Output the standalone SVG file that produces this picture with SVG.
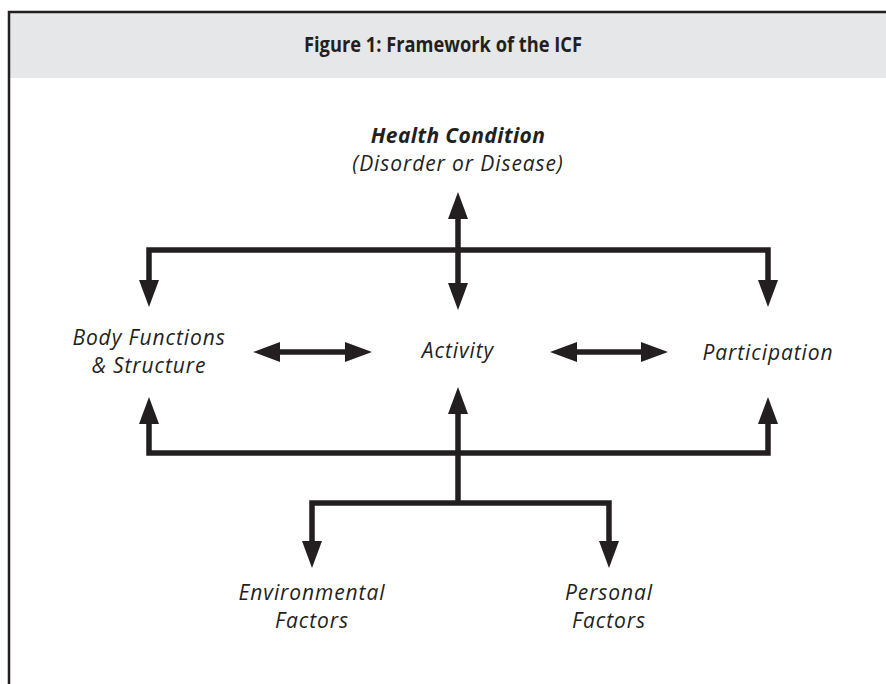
<svg xmlns="http://www.w3.org/2000/svg" width="886" height="684" viewBox="0 0 886 684">
<style>
.lbl{font-family:"Open Sans","Noto Sans","Liberation Sans",sans-serif;font-style:italic;font-size:21px;letter-spacing:0.9px;fill:#231f20;text-anchor:middle}
.b{font-weight:bold;letter-spacing:0.4px}
.title{font-family:"Open Sans","Noto Sans","Liberation Sans",sans-serif;font-weight:bold;font-size:21px;fill:#231f20;text-anchor:middle}
.con{fill:none;stroke:#231f20;stroke-width:5.5;stroke-linejoin:miter}
.frame{fill:none;stroke:#231f20;stroke-width:2.5}
</style>
<defs>
<marker id="ah" viewBox="0 0 27 20" refX="0" refY="10" markerWidth="27" markerHeight="20" markerUnits="userSpaceOnUse" orient="auto-start-reverse">
<path d="M0,0 L27,10 L0,20 z" fill="#231f20"/>
</marker>
</defs>
<rect x="0" y="0" width="886" height="684" fill="#ffffff"/>
<g id="header">
<rect x="9" y="12" width="877" height="66" fill="#e6e7e8"/>
<path class="frame" d="M9,684 L9,12 L886,12"/>
<text class="title" x="443" y="52" textLength="278" lengthAdjust="spacingAndGlyphs">Figure 1: Framework of the ICF</text>
</g>
<g id="connectors">
<path class="con" d="M458,219 L458,283" marker-start="url(#ah)" marker-end="url(#ah)"/>
<path class="con" d="M149,280 L149,250 L768,250 L768,280" marker-start="url(#ah)" marker-end="url(#ah)"/>
<path class="con" d="M280,352 L345,352" marker-start="url(#ah)" marker-end="url(#ah)"/>
<path class="con" d="M577,352 L641,352" marker-start="url(#ah)" marker-end="url(#ah)"/>
<path class="con" d="M149,424 L149,453 L768,453 L768,424" marker-start="url(#ah)" marker-end="url(#ah)"/>
<path class="con" d="M458,503 L458,414" marker-end="url(#ah)"/>
<path class="con" d="M312,541 L312,503 L609,503 L609,541" marker-start="url(#ah)" marker-end="url(#ah)"/>
</g>
<g id="health">
<text class="lbl b" x="458" y="143">Health Condition</text>
<text class="lbl" x="458" y="171">(Disorder or Disease)</text>
</g>
<g id="body">
<text class="lbl" x="149" y="345">Body Functions</text>
<text class="lbl" x="149" y="373">&amp; Structure</text>
</g>
<g id="activity">
<text class="lbl" x="458" y="358">Activity</text>
</g>
<g id="participation">
<text class="lbl" x="768" y="360">Participation</text>
</g>
<g id="environmental">
<text class="lbl" x="312" y="600">Environmental</text>
<text class="lbl" x="312" y="628">Factors</text>
</g>
<g id="personal">
<text class="lbl" x="609" y="600">Personal</text>
<text class="lbl" x="609" y="628">Factors</text>
</g>
</svg>
